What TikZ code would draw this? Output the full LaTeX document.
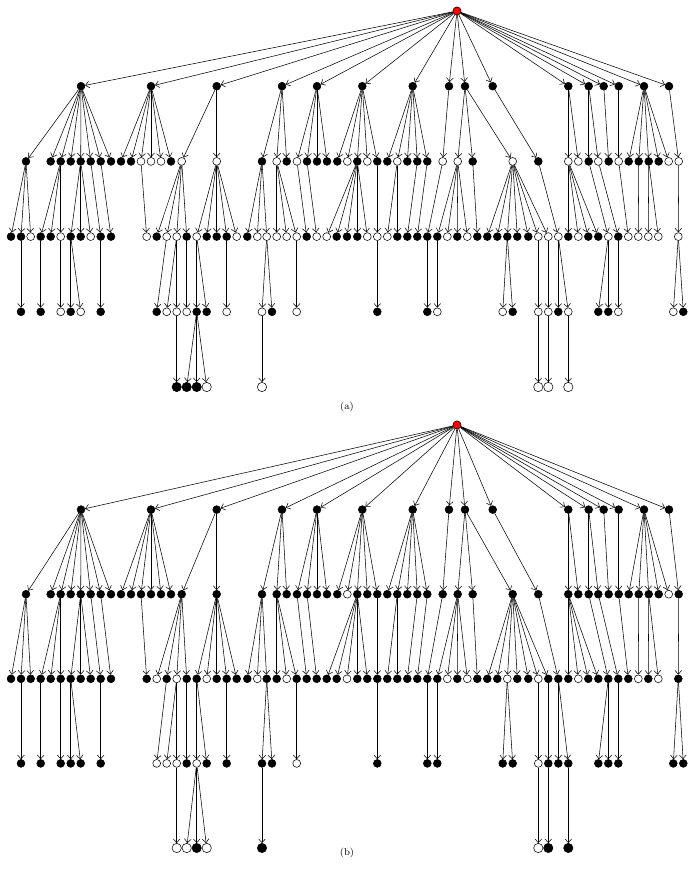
\documentclass[tikz,border=0pt]{standalone}
\usepackage{tikz}
\usetikzlibrary{arrows.meta}

\tikzset{
  vtx/.style={circle, draw, line width=0.4pt, inner sep=0pt, minimum size=5.9pt},
  full/.style={vtx, fill=black},
  hollow/.style={vtx, fill=white},
  rootvtx/.style={vtx, fill=red, minimum size=6.2pt},
  leafsize/.style={minimum size=7pt},
  % two letters: colour in (a), colour in (b)
  a-bb/.style={full}, a-bw/.style={full}, a-wb/.style={hollow}, a-ww/.style={hollow},
  b-bb/.style={full}, b-bw/.style={hollow}, b-wb/.style={full}, b-ww/.style={hollow},
  link/.style={line width=0.4pt, -{Straight Barb[length=2.8pt,width=5pt]}}
}

\begin{document}
\begin{tikzpicture}[x=0.75pt,y=-0.75pt]
  \useasboundingbox (0,0) rectangle (695,879);

  \foreach \tr/\yt/\dy/\yc in {a/11/75.2/407, b/425/84.6/853} {
    \node[rootvtx] (\tr0) at (457,\yt) {};

    % level 1
    \foreach \x [count=\i] in {81,151,216.7,282,317,362.3,412.7,449,465,492.7,568.3,588.7,603.7,618.7,644,669} {
      \node[full] (\tr1-\i) at (\x,{\yt+\dy}) {};
      \draw[link] (\tr0) -- (\tr1-\i);
    }

    % level 2
    \foreach \x/\c/\p [count=\i] in {26/bb/1, 50.7/bb/1, 60.7/bb/1, 70.7/bb/1, 80.7/bb/1, 90.7/bb/1, 100.7/bb/1, 111/bb/1,
        121/bb/2, 131/bb/2, 141/wb/2, 151/wb/2, 161/wb/2, 171/bb/2,
        181.7/wb/3, 216.7/wb/3,
        262/bb/4, 276.7/wb/4, 286.7/bb/4,
        297/wb/5, 307/bb/5, 317/bb/5, 327/bb/5,
        337.3/bb/6, 347.3/ww/6, 357.3/bb/6, 367.3/wb/6, 377.3/bb/6,
        387.3/bb/7, 397.3/wb/7, 407.3/bb/7, 417.3/bb/7, 427.3/bb/7,
        442.7/wb/8, 457.7/wb/9, 472.7/bb/9, 512.7/wb/9, 538.3/bb/10,
        568.3/wb/11, 578.3/wb/11, 588.7/bb/12, 598.3/wb/12, 608.7/bb/13, 618.7/wb/14,
        628.7/bb/15, 638.7/bb/15, 648.7/bb/15, 658.7/bb/15, 668.7/ww/15, 678.7/wb/16} {
      \node[\tr-\c] (\tr2-\i) at (\x,{\yt+2*\dy}) {};
      \draw[link] (\tr1-\p) -- (\tr2-\i);
    }

    % level 3
    \foreach \x/\c/\p [count=\i] in {11/bb/1, 21/bb/1, 30.7/wb/1,
        40.7/bb/3, 50.7/bb/3, 60.7/wb/3,
        70.7/bb/5, 80.7/bb/5, 90.7/wb/5, 100.7/bb/6, 111/bb/7,
        146.7/wb/11,
        156.7/bw/15, 166.7/wb/15, 176.7/ww/15, 186.7/bb/15,
        196.7/wb/16, 206.7/bw/16, 216.7/bb/16, 226.7/bb/16, 236.7/wb/16,
        247.3/bb/17, 257.3/ww/17, 266.7/wb/17,
        276.7/wb/18, 286.7/ww/18, 296.7/wb/18,
        306.7/bb/20, 316.7/wb/21,
        326.7/wb/26, 336.7/bb/26, 347/bw/26, 357.3/bb/26, 367.3/wb/26,
        377.3/wb/28, 387.3/wb/30, 397.3/bb/30,
        407.3/bb/32, 417.3/bb/33, 427.3/bb/34,
        437.3/bb/35, 447.3/ww/35, 457.3/bb/35, 467.3/ww/35, 477.3/bb/36,
        487.3/bb/37, 497.3/bb/37, 507.3/bw/37, 517.3/bb/37, 528.3/bb/37, 538.3/ww/37, 548.3/wb/37,
        558.3/wb/38,
        568.3/bb/39, 578.3/ww/39, 588.3/bb/39, 598.3/bb/39,
        608.3/wb/41, 618.3/bb/42, 628.3/wb/44, 638.3/ww/46,
        648.3/wb/47, 658.3/ww/47, 678.3/wb/50} {
      \node[\tr-\c] (\tr3-\i) at (\x,{\yt+3*\dy}) {};
      \draw[link] (\tr2-\p) -- (\tr3-\i);
    }

    % level 4
    \foreach \x/\c/\p [count=\i] in {21/bb/2, 40.7/bb/4, 60.7/wb/6, 70.7/bb/7, 80.7/wb/7, 100.7/bb/10,
        156.7/bw/14, 166.7/ww/15, 176.7/ww/15, 186.7/wb/16, 196.7/bw/17, 206.7/bb/17, 226.7/wb/20,
        262/wb/24, 272/bb/24, 296.7/ww/27,
        377.3/bb/35, 427.3/bb/40, 437.3/wb/41, 502.7/wb/48, 512.7/bb/48,
        538.3/ww/51, 548.3/wb/52, 558.3/bb/53, 568.3/wb/53,
        598.3/bb/58, 608.3/bb/58, 618.3/wb/59, 673.3/wb/64, 683.3/bb/64} {
      \node[\tr-\c] (\tr4-\i) at (\x,{\yt+4*\dy}) {};
      \draw[link] (\tr3-\p) -- (\tr4-\i);
    }

    % level 5
    \foreach \x/\c/\p [count=\i] in {176.7/bw/9, 186.7/bw/11, 196.7/bb/11, 206.7/ww/11,
        262/wb/14, 538.3/ww/22, 548.3/wb/23, 568.3/wb/25} {
      \node[\tr-\c, leafsize] (\tr5-\i) at (\x,{\yt+5*\dy}) {};
      \draw[link] (\tr4-\p) -- (\tr5-\i);
    }

    \node[font=\fontsize{7.5}{9}\selectfont] (cap\tr) at (347,\yc) {(\tr)};
  }
\end{tikzpicture}
\end{document}
